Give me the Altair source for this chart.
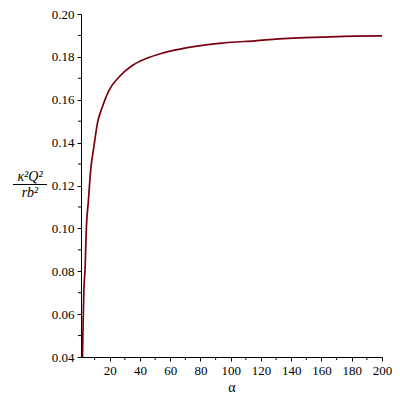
import altair as alt
import pandas as pd

# Values
alpha = [2.0, 2.25, 2.9, 3.75, 4.4, 5.9, 7.5, 9.5, 11.8, 15.1, 19.5, 26.1, 34.9,
         43.7, 54.6, 65.6, 77.6, 94, 116, 138, 160, 182, 200]
value = [0.040, 0.051, 0.071, 0.082, 0.0976, 0.113, 0.128, 0.138, 0.1489, 0.1566,
         0.1644, 0.1706, 0.176, 0.1791, 0.1817, 0.1835, 0.185, 0.1864, 0.1875,
         0.1886, 0.1892, 0.1897, 0.1898]

x_major = [20, 40, 60, 80, 100, 120, 140, 160, 180, 200]
x_minor = [10, 30, 50, 70, 90, 110, 130, 150, 170, 190]
y_major = [0.04, 0.06, 0.08, 0.10, 0.12, 0.14, 0.16, 0.18, 0.20]
y_minor = [0.05, 0.07, 0.09, 0.11, 0.13, 0.15, 0.17, 0.19]

x_title = "α"
y_num = "κ²Q²"
y_den = "rb²"

W, H = 301, 343
FONT = "Liberation Serif"
LINE_COLOR = "#7a0010"

df = pd.DataFrame({"alpha": alpha, "value": value})
xscale = alt.Scale(domain=[1, 200], nice=False, zero=False)
yscale = alt.Scale(domain=[0.04, 0.20], nice=False, zero=False)

xaxis = alt.Axis(values=x_major, title=x_title, format="d", tickSize=4,
                 labelPadding=3, titlePadding=3, grid=False,
                 labelOverlap=False, labelFlush=False, labelFont=FONT,
                 labelFontSize=13, titleFont=FONT, titleFontSize=14,
                 titleFontWeight="normal")
yaxis = alt.Axis(values=y_major, title=None, format=".2f", tickSize=4,
                 labelPadding=3, grid=False, labelOverlap=False,
                 labelFlush=False, labelFont=FONT, labelFontSize=13)

line = alt.Chart(df).mark_line(color=LINE_COLOR, strokeWidth=1.7, interpolate="monotone").encode(
    x=alt.X("alpha:Q", scale=xscale, axis=xaxis),
    y=alt.Y("value:Q", scale=yscale, axis=yaxis),
)

xminor = alt.Chart(pd.DataFrame({"m": x_minor})).mark_rule(color="black", strokeWidth=1).encode(
    x=alt.X("m:Q", scale=xscale, axis=xaxis),
    y=alt.value(H), y2=alt.value(H + 3),
)
yminor = alt.Chart(pd.DataFrame({"m": y_minor})).mark_rule(color="black", strokeWidth=1).encode(
    y=alt.Y("m:Q", scale=yscale, axis=yaxis),
    x=alt.value(-3), x2=alt.value(0),
)

one = pd.DataFrame({"k": [0]})
num = alt.Chart(one).mark_text(font=FONT, fontSize=14, fontStyle="italic", color="black").encode(
    text=alt.value(y_num), x=alt.value(-51), y=alt.value(163))
bar = alt.Chart(one).mark_rule(color="black", strokeWidth=1).encode(
    x=alt.value(-68), x2=alt.value(-34), y=alt.value(170.5))
den = alt.Chart(one).mark_text(font=FONT, fontSize=14, fontStyle="italic", color="black").encode(
    text=alt.value(y_den), x=alt.value(-51), y=alt.value(179))

chart = alt.layer(line, xminor, yminor, num, bar, den).properties(
    width=W, height=H,
    autosize=alt.AutoSizeParams(type="none"),
    padding={"left": 73, "top": 6, "right": 10, "bottom": 40},
).configure_view(stroke=None).configure_axis(
    domainColor="black", tickColor="black", labelColor="black",
    titleColor="black", domainWidth=1, tickWidth=1,
)

chart.save("out.html", embed_options={"renderer": "svg", "actions": False})
